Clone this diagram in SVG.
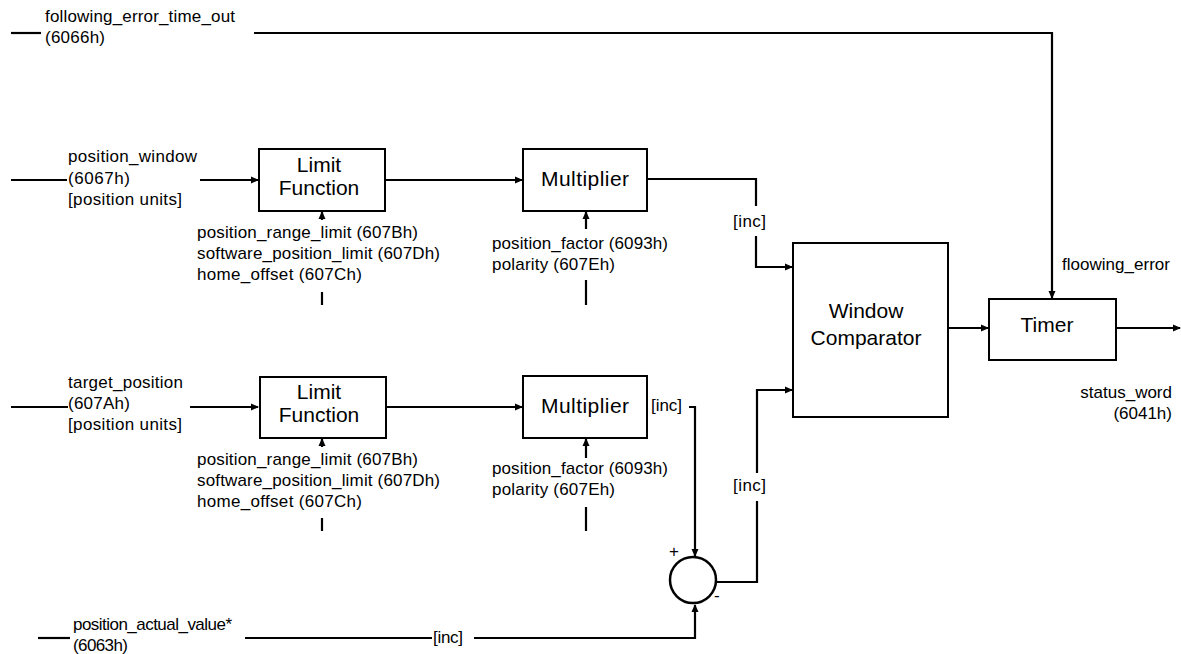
<svg xmlns="http://www.w3.org/2000/svg" width="1181" height="654" viewBox="0 0 1181 654">
<style>
  .box{fill:#fff;stroke:#000;stroke-width:2}
  .ln{fill:none;stroke:#000;stroke-width:2.2}
  .lbl{font-family:"Liberation Sans",Arial,sans-serif;font-size:17px;fill:#000}
  .blbl{font-family:"Liberation Sans",Arial,sans-serif;font-size:21px;fill:#000;text-anchor:middle}
</style>
<defs>
  <marker id="ah" markerWidth="8" markerHeight="8" refX="7" refY="4" orient="auto" markerUnits="userSpaceOnUse">
    <path d="M0,0.5 L8,4 L0,7.5 Z" fill="#000"/>
  </marker>
</defs>
<rect width="1181" height="654" fill="#fff"/>

<g id="connectors">
  <!-- following_error_time_out -->
  <line class="ln" x1="11" y1="33" x2="41" y2="33"/>
  <path class="ln" d="M254,33 H1052 V298" marker-end="url(#ah)"/>
  <!-- position_window -->
  <line class="ln" x1="11" y1="180" x2="67" y2="180"/>
  <line class="ln" x1="200" y1="180" x2="258" y2="180" marker-end="url(#ah)"/>
  <line class="ln" x1="385" y1="180" x2="522" y2="180" marker-end="url(#ah)"/>
  <path class="ln" d="M647,179 H756 V206"/>
  <path class="ln" d="M756,236 V267 H792" marker-end="url(#ah)"/>
  <line class="ln" x1="322" y1="220" x2="322" y2="212" marker-end="url(#ah)"/>
  <line class="ln" x1="322" y1="292" x2="322" y2="305"/>
  <line class="ln" x1="586" y1="229" x2="586" y2="212" marker-end="url(#ah)"/>
  <line class="ln" x1="586" y1="280" x2="586" y2="305"/>
  <!-- target_position -->
  <line class="ln" x1="11" y1="407" x2="68" y2="407"/>
  <line class="ln" x1="190" y1="407" x2="258" y2="407" marker-end="url(#ah)"/>
  <line class="ln" x1="386" y1="407" x2="522" y2="407" marker-end="url(#ah)"/>
  <line class="ln" x1="322" y1="447" x2="322" y2="439" marker-end="url(#ah)"/>
  <line class="ln" x1="322" y1="518" x2="322" y2="531"/>
  <line class="ln" x1="586" y1="458" x2="586" y2="439" marker-end="url(#ah)"/>
  <line class="ln" x1="586" y1="507" x2="586" y2="531"/>
  <path class="ln" d="M689,407 H695 V556" marker-end="url(#ah)"/>
  <!-- summing junction output -->
  <path class="ln" d="M716,582 H757 V501"/>
  <path class="ln" d="M757,473 V390 H792" marker-end="url(#ah)"/>
  <!-- position_actual_value -->
  <line class="ln" x1="38" y1="638" x2="70" y2="638"/>
  <line class="ln" x1="245" y1="638" x2="432" y2="638"/>
  <path class="ln" d="M474,638 H695 V605" marker-end="url(#ah)"/>
  <!-- comparator to timer, timer out -->
  <line class="ln" x1="948" y1="328" x2="988" y2="328" marker-end="url(#ah)"/>
  <line class="ln" x1="1116" y1="328" x2="1180" y2="328" marker-end="url(#ah)"/>
</g>

<g id="lf1">
  <rect class="box" x="259" y="149" width="126" height="62"/>
  <text class="blbl" x="319" y="172">Limit</text>
  <text class="blbl" x="319" y="195">Function</text>
</g>
<g id="mul1">
  <rect class="box" x="523" y="149" width="124" height="62"/>
  <text class="blbl" x="585" y="186" textLength="88" lengthAdjust="spacing">Multiplier</text>
</g>
<g id="lf2">
  <rect class="box" x="260" y="377" width="126" height="61"/>
  <text class="blbl" x="319" y="399">Limit</text>
  <text class="blbl" x="319" y="422">Function</text>
</g>
<g id="mul2">
  <rect class="box" x="523" y="376" width="124" height="62"/>
  <text class="blbl" x="585" y="413" textLength="88" lengthAdjust="spacing">Multiplier</text>
</g>
<g id="wc">
  <rect class="box" x="793" y="243" width="155" height="174"/>
  <text class="blbl" x="866" y="318">Window</text>
  <text class="blbl" x="866" y="345">Comparator</text>
</g>
<g id="timer">
  <rect class="box" x="989" y="299" width="127" height="61"/>
  <text class="blbl" x="1047" y="332">Timer</text>
</g>
<g id="sum">
  <circle cx="693" cy="580" r="23" fill="none" stroke="#000" stroke-width="2.5"/>
  <text class="lbl" x="669" y="557" font-size="14">+</text>
  <text class="lbl" x="714" y="601" font-size="14">-</text>
</g>

<g id="labels">
  <text class="lbl" x="45" y="22" textLength="190" lengthAdjust="spacing">following_error_time_out</text>
  <text class="lbl" x="45" y="43" textLength="60" lengthAdjust="spacing">(6066h)</text>
  <text class="lbl" x="68" y="162" textLength="129" lengthAdjust="spacing">position_window</text>
  <text class="lbl" x="68" y="184" textLength="62" lengthAdjust="spacing">(6067h)</text>
  <text class="lbl" x="68" y="205" textLength="114" lengthAdjust="spacing">[position units]</text>
  <text class="lbl" x="197" y="238" textLength="221" lengthAdjust="spacing">position_range_limit (607Bh)</text>
  <text class="lbl" x="197" y="259" textLength="243" lengthAdjust="spacing">software_position_limit (607Dh)</text>
  <text class="lbl" x="197" y="280" textLength="165" lengthAdjust="spacing">home_offset (607Ch)</text>
  <text class="lbl" x="492" y="249" textLength="176" lengthAdjust="spacing">position_factor (6093h)</text>
  <text class="lbl" x="492" y="270" textLength="123" lengthAdjust="spacing">polarity (607Eh)</text>
  <text class="lbl" x="733" y="227" textLength="33" lengthAdjust="spacing">[inc]</text>
  <text class="lbl" x="68" y="388" textLength="115" lengthAdjust="spacing">target_position</text>
  <text class="lbl" x="68" y="409" textLength="62" lengthAdjust="spacing">(607Ah)</text>
  <text class="lbl" x="68" y="430" textLength="114" lengthAdjust="spacing">[position units]</text>
  <text class="lbl" x="197" y="465" textLength="221" lengthAdjust="spacing">position_range_limit (607Bh)</text>
  <text class="lbl" x="197" y="486" textLength="243" lengthAdjust="spacing">software_position_limit (607Dh)</text>
  <text class="lbl" x="197" y="507" textLength="165" lengthAdjust="spacing">home_offset (607Ch)</text>
  <text class="lbl" x="492" y="474" textLength="176" lengthAdjust="spacing">position_factor (6093h)</text>
  <text class="lbl" x="492" y="495" textLength="123" lengthAdjust="spacing">polarity (607Eh)</text>
  <text class="lbl" x="651" y="411" textLength="31" lengthAdjust="spacing">[inc]</text>
  <text class="lbl" x="733" y="491" textLength="33" lengthAdjust="spacing">[inc]</text>
  <text class="lbl" x="73" y="630" textLength="159" lengthAdjust="spacing">position_actual_value*</text>
  <text class="lbl" x="73" y="651" textLength="55" lengthAdjust="spacing">(6063h)</text>
  <text class="lbl" x="433" y="643" textLength="30" lengthAdjust="spacing">[inc]</text>
  <text class="lbl" x="1062" y="270" textLength="108" lengthAdjust="spacing">floowing_error</text>
  <text class="lbl" x="1172" y="398" text-anchor="end">status_word</text>
  <text class="lbl" x="1172" y="419" text-anchor="end">(6041h)</text>
</g>
</svg>
